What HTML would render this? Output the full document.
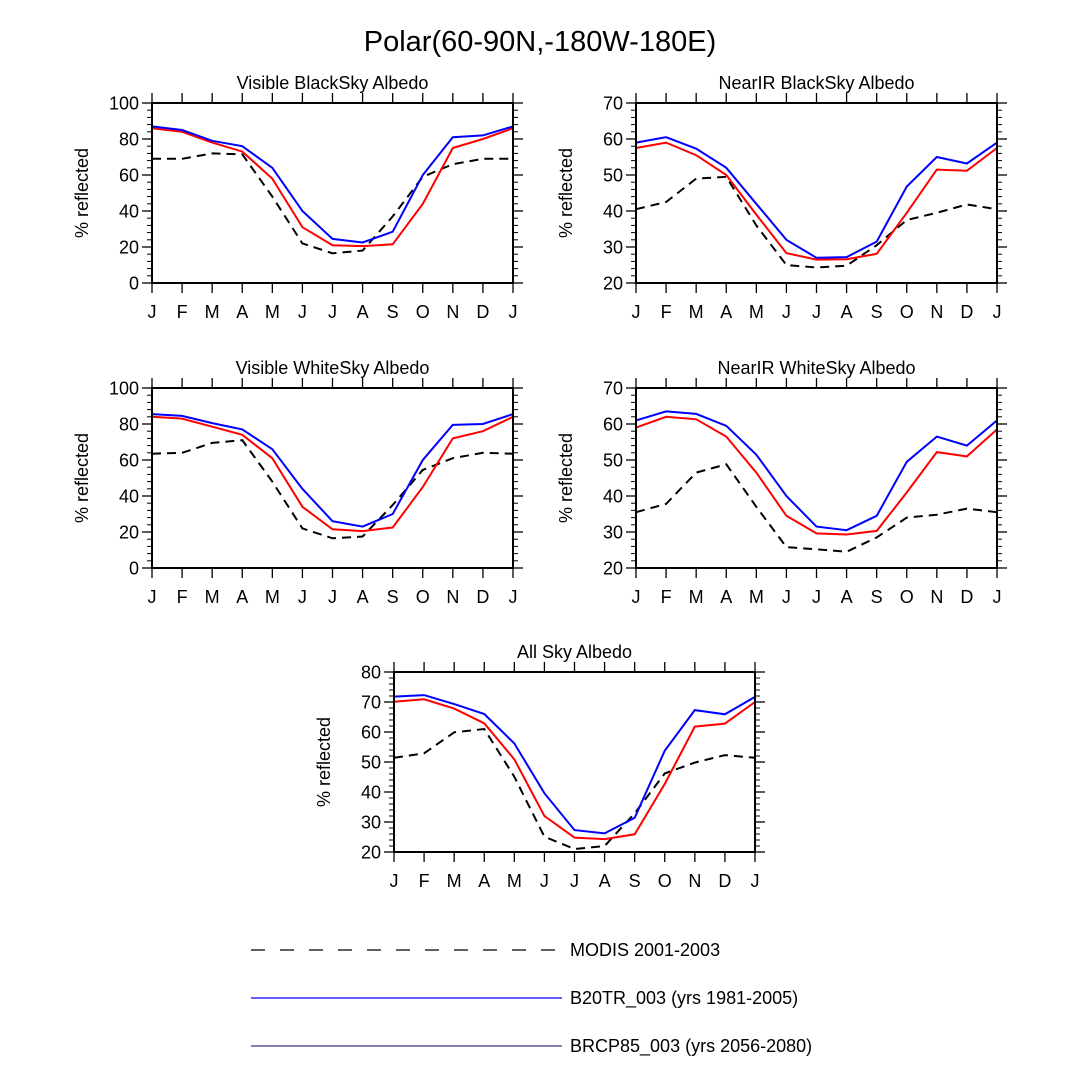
<!DOCTYPE html>
<html><head><meta charset="utf-8"><style>
body{margin:0;background:#fff;}
svg{display:block;font-family:"Liberation Sans",Arial,sans-serif;}
</style></head><body>
<svg id="c" width="1080" height="1080" viewBox="0 0 1080 1080">
<text x="540" y="51" text-anchor="middle" font-size="29">Polar(60-90N,-180W-180E)</text>
<g>
<line x1="251" y1="950" x2="555" y2="950" stroke="#000" stroke-width="1.3" stroke-dasharray="14,15"/>
<text x="570" y="956" font-size="18">MODIS 2001-2003</text>
<line x1="251" y1="998" x2="562" y2="998" stroke="#0000ff" stroke-width="1.2"/>
<text x="570" y="1004" font-size="18">B20TR_003 (yrs 1981-2005)</text>
<line x1="251" y1="1046" x2="562" y2="1046" stroke="#000066" stroke-width="1"/>
<text x="570" y="1052" font-size="18">BRCP85_003 (yrs 2056-2080)</text>
</g>
</svg>
<script>
const months = ["J","F","M","A","M","J","J","A","S","O","N","D","J"];
const visBlackB20 = [87,85,79,76,64,40,24.5,22.5,28.5,60,81,82,87];
const visBlackRCP = [86,84,78,73,58,31,21,20.5,21.5,44,75,80,86];
const visBlackMODIS = [69,69,72,71.5,48,22,16.5,18,37,59,66,69,69];
const nirBlackB20 = [59,60.5,57.3,52,42,32,27,27.2,31.5,46.8,55,53.2,59];
const nirBlackRCP = [57.5,59,55.5,50,39,28.3,26.5,26.6,28.1,39.5,51.5,51.2,57.5];
const nirBlackMODIS = [40.5,42.5,49,49.5,36,25,24.3,24.8,30.5,37.5,39.5,41.8,40.5];
const visWhiteB20 = [85.5,84.5,80.5,77,66,44,26,23,30,60,79.5,80,85.5];
const visWhiteRCP = [84,83,78.5,74,61,34,21.5,20.5,22.5,45,72,76,84];
const visWhiteMODIS = [63.5,64,69.5,71,48,22,16.5,17.5,35,54.5,61,64,63.5];
const nirWhiteB20 = [61,63.5,62.8,59.5,51.5,40,31.5,30.5,34.5,49.5,56.5,54,61];
const nirWhiteRCP = [59,62,61.3,56.5,46.5,34.5,29.6,29.3,30.3,41,52.2,51,58.5];
const nirWhiteMODIS = [35.5,37.8,46.5,48.8,37,25.8,25.2,24.5,28.5,34,34.8,36.5,35.5];
const allSkyB20 = [71.8,72.3,69.3,66,56.2,39.6,27.3,26.2,31.4,53.8,67.3,65.9,71.7];
const allSkyRCP = [70.1,70.9,67.8,62.9,50.9,32,24.8,24.3,25.9,42.7,61.8,62.8,70];
const allSkyMODIS = [51.4,52.9,59.9,61,45.1,25.1,21,22,32.9,46.2,49.8,52.3,51.4];
const ticks100 = [0,20,40,60,80,100];
const ticks70 = [20,30,40,50,60,70];
const ticks80 = [20,30,40,50,60,70,80];

const NS="http://www.w3.org/2000/svg";
const svg=document.getElementById('c');
function mk(tag,attrs,parent){const e=document.createElementNS(NS,tag);for(const k in attrs)e.setAttribute(k,attrs[k]);(parent||svg).appendChild(e);return e;}

function panel(key,title,x0,y0,ticks,minorStep,b20,rcp,modis){
  const w=361,h=180,ymin=ticks[0],ymax=ticks[ticks.length-1];
  const g=mk('g',{});
  
  
  const xs=i=>x0+i*w/(months.length-1);
  const ys=v=>y0+h-(v-ymin)/(ymax-ymin)*h;
  const t=mk('text',{x:x0+w/2,y:y0-14,'text-anchor':'middle','font-size':18},g);
  t.textContent=title;
  
  
  const yl=mk('text',{x:0,y:0,'text-anchor':'middle','font-size':18,transform:`translate(${x0-64},${y0+h/2}) rotate(-90)`},g);
  yl.textContent='% reflected';
  
  
  for(let v=ymin;v<=ymax+1e-9;v+=minorStep){
    const y=ys(v);
    mk('line',{x1:x0-5,y1:y,x2:x0,y2:y,stroke:'#000','stroke-width':1},g);
    mk('line',{x1:x0+w,y1:y,x2:x0+w+5,y2:y,stroke:'#000','stroke-width':1},g);
  }
  ticks.forEach(v=>{
    const y=ys(v);
    mk('line',{x1:x0-10,y1:y,x2:x0,y2:y,stroke:'#000','stroke-width':1.3},g);
    mk('line',{x1:x0+w,y1:y,x2:x0+w+10,y2:y,stroke:'#000','stroke-width':1.3},g);
    const tl=mk('text',{x:x0-13,y:y+6.5,'text-anchor':'end','font-size':18},g);
    tl.textContent=v;
    
    
  });
  months.forEach((m,i)=>{
    const x=xs(i);
    mk('line',{x1:x,y1:y0-10,x2:x,y2:y0,stroke:'#000','stroke-width':1.3},g);
    mk('line',{x1:x,y1:y0+h,x2:x,y2:y0+h+10,stroke:'#000','stroke-width':1.3},g);
    const tl=mk('text',{x:x,y:y0+h+35,'text-anchor':'middle','font-size':18},g);
    tl.textContent=m;
    
    
  });
  const pts=a=>a.map((v,i)=>xs(i).toFixed(1)+','+ys(v).toFixed(1)).join(' ');
  const lm=mk('polyline',{points:pts(modis),fill:'none',stroke:'#000','stroke-width':2,'stroke-dasharray':'9,6'},g);
  
  
  const lr=mk('polyline',{points:pts(rcp),fill:'none',stroke:'#ff0000','stroke-width':2},g);
  
  
  const lb=mk('polyline',{points:pts(b20),fill:'none',stroke:'#0000ff','stroke-width':2},g);
  
  
  const fr=mk('rect',{x:x0,y:y0,width:w,height:h,fill:'none',stroke:'#000','stroke-width':2},g);
  
  
}
panel('visible-blacksky','Visible BlackSky Albedo',152,103,ticks100,4,visBlackB20,visBlackRCP,visBlackMODIS);
panel('nearir-blacksky','NearIR BlackSky Albedo',636,103,ticks70,2,nirBlackB20,nirBlackRCP,nirBlackMODIS);
panel('visible-whitesky','Visible WhiteSky Albedo',152,388,ticks100,4,visWhiteB20,visWhiteRCP,visWhiteMODIS);
panel('nearir-whitesky','NearIR WhiteSky Albedo',636,388,ticks70,2,nirWhiteB20,nirWhiteRCP,nirWhiteMODIS);
panel('all-sky','All Sky Albedo',394,672,ticks80,2,allSkyB20,allSkyRCP,allSkyMODIS);
</script>
</body></html>
